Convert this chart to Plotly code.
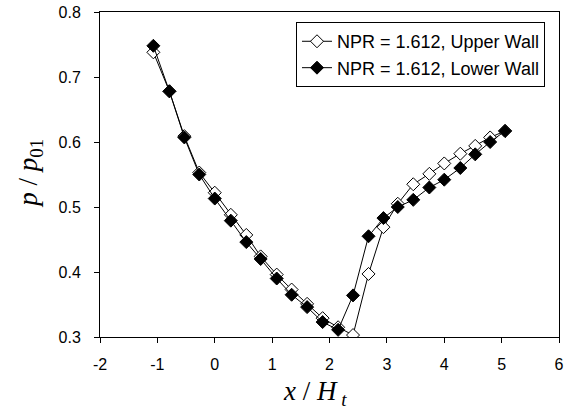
import plotly.graph_objects as go

x_over_ht = [-1.07, -0.79, -0.53, -0.27, 0.0, 0.28, 0.55, 0.80, 1.08, 1.34, 1.61, 1.88,
             2.15, 2.41, 2.68, 2.94, 3.19, 3.46, 3.74, 4.00, 4.28, 4.54, 4.80, 5.06]
upper_wall = [0.738, 0.678, 0.609, 0.553, 0.522, 0.488, 0.457, 0.424, 0.396, 0.373, 0.351, 0.329,
              0.315, 0.303, 0.397, 0.469, 0.505, 0.535, 0.551, 0.567, 0.582, 0.594, 0.607, 0.617]
lower_wall = [0.748, 0.678, 0.607, 0.550, 0.513, 0.479, 0.446, 0.420, 0.390, 0.365, 0.346, 0.323,
              0.311, 0.364, 0.455, 0.483, 0.500, 0.511, 0.530, 0.542, 0.560, 0.581, 0.600, 0.617]
names = ["NPR = 1.612, Upper Wall", "NPR = 1.612, Lower Wall"]
x_tick_vals = [-2, -1, 0, 1, 2, 3, 4, 5, 6]
x_tick_text = ["-2", "-1", "0", "1", "2", "3", "4", "5", "6"]
y_tick_vals = [0.3, 0.4, 0.5, 0.6, 0.7, 0.8]
y_tick_text = ["0.3", "0.4", "0.5", "0.6", "0.7", "0.8"]

fig = go.Figure()
fig.add_trace(go.Scatter(
    x=x_over_ht, y=upper_wall, name=names[0], mode="lines+markers",
    line=dict(color="black", width=1),
    marker=dict(symbol="diamond", size=10, color="white", line=dict(color="black", width=1)),
))
fig.add_trace(go.Scatter(
    x=x_over_ht, y=lower_wall, name=names[1], mode="lines+markers",
    line=dict(color="black", width=1),
    marker=dict(symbol="diamond", size=10, color="black", line=dict(color="black", width=1)),
))

axis_common = dict(
    showline=True, linecolor="black", linewidth=1, mirror=True, automargin=False,
    ticks="outside", ticklen=5, tickcolor="black", showgrid=False, zeroline=False,
    tickfont=dict(family="Liberation Sans, Arial", size=16, color="black"),
)
fig.update_xaxes(range=[-2, 6], tickvals=x_tick_vals, ticktext=x_tick_text,
                 ticklabelstandoff=8, **axis_common)
fig.update_yaxes(range=[0.3, 0.8], tickvals=y_tick_vals, ticktext=y_tick_text,
                 ticklabelstandoff=10, **axis_common)

title_font = dict(family="Liberation Serif, Times New Roman", size=27, color="black")
fig.add_annotation(
    text="<i>x</i> / <i>H</i><sub> <i>t</i></sub>", xref="paper", yref="paper",
    x=0.468, y=-0.172, xanchor="center", yanchor="middle", showarrow=False,
    font=title_font,
)
fig.add_annotation(
    text="<i>p</i> / <i>p</i><sub>01</sub>", xref="paper", yref="paper",
    x=-0.153, y=0.505, xanchor="center", yanchor="middle", showarrow=False,
    textangle=-90, font=title_font,
)

fig.update_layout(
    width=573, height=413,
    margin=dict(l=100, r=14, t=12, b=76, autoexpand=False),
    paper_bgcolor="white", plot_bgcolor="white",
    showlegend=True,
    legend=dict(x=0.427, y=0.969, xanchor="left", yanchor="top",
                bordercolor="black", borderwidth=1, bgcolor="white",
                font=dict(family="Liberation Sans, Arial", size=18, color="black"),
                tracegroupgap=0, itemwidth=30),
)

fig.write_html("out.html", config={"displayModeBar": False},
               post_script="document.body.style.margin='0';document.body.style.overflow='hidden';")
